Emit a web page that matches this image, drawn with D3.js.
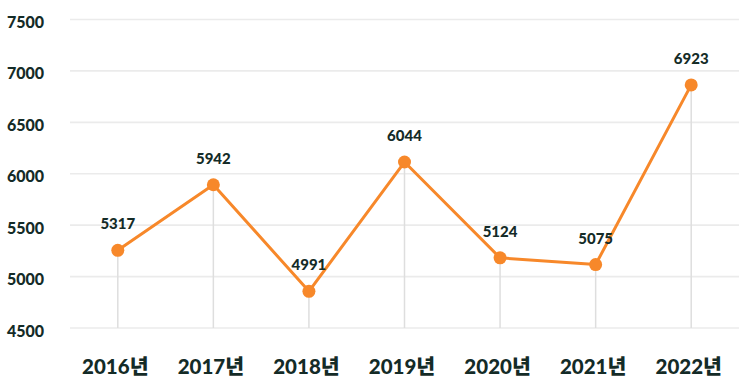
<!DOCTYPE html>
<html>
<head>
<meta charset="utf-8">
<script src="https://cdn.jsdelivr.net/npm/d3@7"></script>
<style>
  html, body { margin: 0; padding: 0; background: #ffffff; }
  svg { display: block; }
</style>
</head>
<body>
<div id="chart"></div>
<script>
// ---- data ----
const categories = ["2016년", "2017년", "2018년", "2019년", "2020년", "2021년", "2022년"];
// plotted point levels
const values = [5255, 5893, 4857, 6114, 5182, 5117, 6864];
// value labels as printed above each point
const valueLabels = ["5317", "5942", "4991", "6044", "5124", "5075", "6923"];
const yTicks = [4500, 5000, 5500, 6000, 6500, 7000, 7500];

const W = 750, H = 379;
const margin = { left: 70, right: 11, top: 19.5, bottom: 50.5 };
const textColor = "#142b27";
const lineColor = "#f7882a";
const fontFamily = "Lato, 'Noto Sans CJK KR', sans-serif";

const svg = d3.select("#chart").append("svg")
  .attr("width", W).attr("height", H);

const x = d3.scalePoint()
  .domain(categories)
  .range([margin.left, W - margin.right])
  .padding(0.5);

const y = d3.scaleLinear()
  .domain([4500, 7500])
  .range([H - margin.bottom - 0.5, margin.top]);

// horizontal gridlines
svg.append("g").selectAll("line")
  .data(yTicks).join("line")
  .attr("x1", margin.left).attr("x2", W - margin.right)
  .attr("y1", d => y(d)).attr("y2", d => y(d))
  .attr("stroke", "#ebebeb").attr("stroke-width", 1.6);

// y axis labels
const yAxis = d3.axisLeft(y).tickValues(yTicks).tickFormat(d3.format("d")).tickSize(0).tickPadding(0);
const gy = svg.append("g").attr("transform", "translate(7,0)").call(yAxis);
gy.select(".domain").remove();
gy.selectAll("text")
  .attr("text-anchor", "start")
  .attr("x", 0)
  .attr("dy", "0.5em")
  .attr("fill", textColor)
  .style("font-family", fontFamily)
  .style("font-size", "16px")
  .style("font-weight", 900);

// x axis labels
const xAxis = d3.axisBottom(x).tickSize(0).tickPadding(0);
const gx = svg.append("g").attr("transform", "translate(-3,0)").call(xAxis);
gx.select(".domain").remove();
gx.selectAll("text")
  .attr("y", 374)
  .attr("dy", 0)
  .attr("fill", textColor)
  .style("font-family", fontFamily)
  .style("font-size", "20.5px")
  .style("font-weight", 900);

const pts = categories.map((c, i) => ({ c, v: values[i], label: valueLabels[i] }));

// vertical drop lines
svg.append("g").selectAll("line")
  .data(pts).join("line")
  .attr("x1", d => x(d.c)).attr("x2", d => x(d.c))
  .attr("y1", d => y(d.v)).attr("y2", y(4500))
  .attr("stroke", "#dedede").attr("stroke-width", 1.5);

// line
const line = d3.line().x(d => x(d.c)).y(d => y(d.v));
svg.append("path")
  .datum(pts)
  .attr("d", line)
  .attr("fill", "none")
  .attr("stroke", lineColor)
  .attr("stroke-width", 3)
  .attr("stroke-linejoin", "round");

// points
svg.append("g").selectAll("circle")
  .data(pts).join("circle")
  .attr("cx", d => x(d.c)).attr("cy", d => y(d.v))
  .attr("r", 6.5)
  .attr("fill", lineColor);

// value labels
svg.append("g").selectAll("text")
  .data(pts).join("text")
  .attr("x", d => x(d.c)).attr("y", d => y(d.v) - 21)
  .attr("text-anchor", "middle")
  .attr("fill", textColor)
  .style("font-family", fontFamily)
  .style("font-size", "15px")
  .style("font-weight", 900)
  .text(d => d.label);
</script>
</body>
</html>
